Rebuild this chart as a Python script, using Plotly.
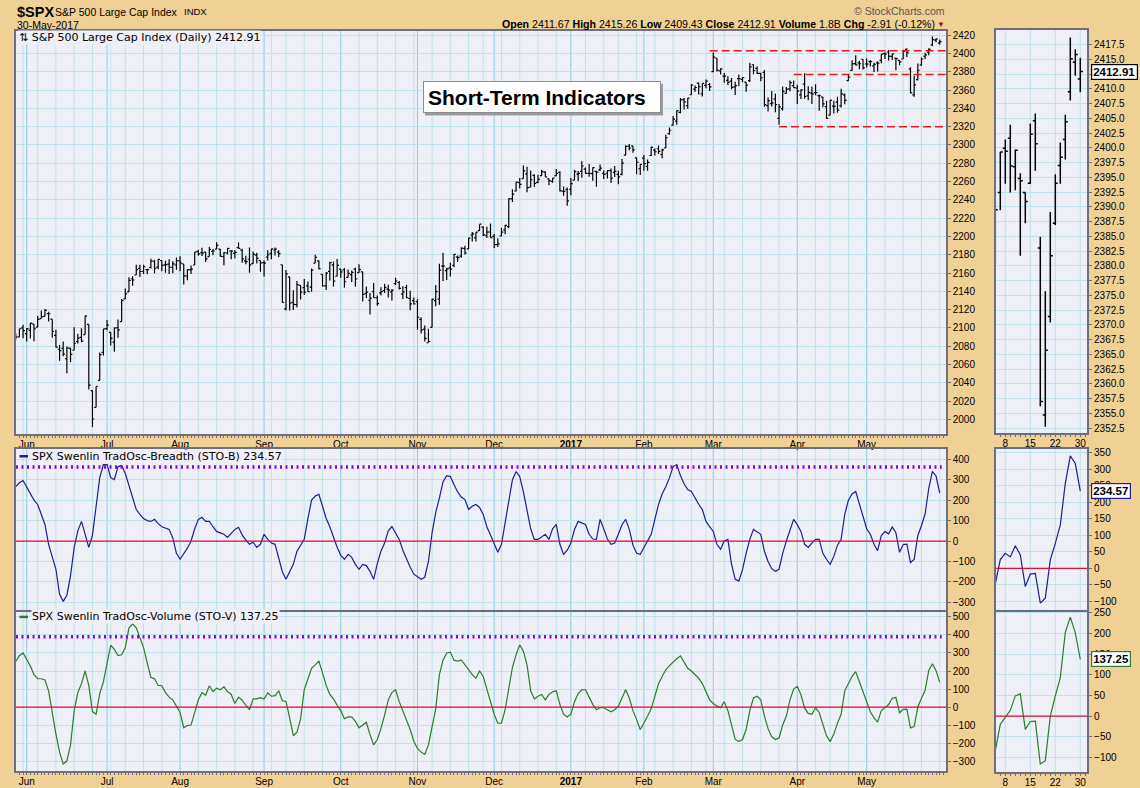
import plotly.graph_objects as go
from datetime import date

# ---------------- DATA ----------------
TRADING_DAYS = {
    (2016, 5): [26, 27, 31],
    (2016, 6): [1, 2, 3, 6, 7, 8, 9, 10, 13, 14, 15, 16, 17, 20, 21, 22, 23, 24, 27, 28, 29, 30],
    (2016, 7): [1, 5, 6, 7, 8, 11, 12, 13, 14, 15, 18, 19, 20, 21, 22, 25, 26, 27, 28, 29],
    (2016, 8): [1, 2, 3, 4, 5, 8, 9, 10, 11, 12, 15, 16, 17, 18, 19, 22, 23, 24, 25, 26, 29, 30, 31],
    (2016, 9): [1, 2, 6, 7, 8, 9, 12, 13, 14, 15, 16, 19, 20, 21, 22, 23, 26, 27, 28, 29, 30],
    (2016, 10): [3, 4, 5, 6, 7, 10, 11, 12, 13, 14, 17, 18, 19, 20, 21, 24, 25, 26, 27, 28, 31],
    (2016, 11): [1, 2, 3, 4, 7, 8, 9, 10, 11, 14, 15, 16, 17, 18, 21, 22, 23, 25, 28, 29, 30],
    (2016, 12): [1, 2, 5, 6, 7, 8, 9, 12, 13, 14, 15, 16, 19, 20, 21, 22, 23, 27, 28, 29, 30],
    (2017, 1): [3, 4, 5, 6, 9, 10, 11, 12, 13, 17, 18, 19, 20, 23, 24, 25, 26, 27, 30, 31],
    (2017, 2): [1, 2, 3, 6, 7, 8, 9, 10, 13, 14, 15, 16, 17, 21, 22, 23, 24, 27, 28],
    (2017, 3): [1, 2, 3, 6, 7, 8, 9, 10, 13, 14, 15, 16, 17, 20, 21, 22, 23, 24, 27, 28, 29, 30, 31],
    (2017, 4): [3, 4, 5, 6, 7, 10, 11, 12, 13, 17, 18, 19, 20, 21, 24, 25, 26, 27, 28],
    (2017, 5): [1, 2, 3, 4, 5, 8, 9, 10, 11, 12, 15, 16, 17, 18, 19, 22, 23, 24, 25, 26, 30],
}

OPEN = [
    2091.4, 2090.1, 2100.1,
    2093.9, 2097.7, 2104.1, 2100.8, 2110.2, 2112.7, 2115.7, 2109.6, 2091.8, 2076.7, 2077.6, 2066.4, 2078.0, 2075.6, 2085.2, 2089.8, 2092.8, 2103.8, 2031.5, 2013.2, 2042.7, 2073.2,
    2099.3, 2095.1, 2084.4, 2100.4, 2107.0, 2131.7, 2139.5, 2153.8, 2157.9, 2165.1, 2162.0, 2163.8, 2166.1, 2172.9, 2166.5, 2173.7, 2169.0, 2169.8, 2166.1, 2168.8,
    2173.2, 2169.9, 2156.8, 2163.5, 2168.8, 2183.8, 2182.2, 2182.8, 2178.0, 2183.7, 2186.1, 2186.2, 2177.8, 2181.9, 2184.2, 2181.6, 2187.8, 2185.1, 2173.3, 2175.1, 2170.2, 2179.5, 2173.6,
    2171.3, 2177.5, 2181.6, 2185.2, 2182.8, 2169.1, 2120.9, 2155.8, 2127.9, 2125.4, 2146.5, 2144.0, 2145.9, 2144.6, 2170.9, 2173.3, 2158.5, 2146.0, 2161.9, 2168.9, 2156.5,
    2164.3, 2163.4, 2155.2, 2158.2, 2164.2, 2160.4, 2161.4, 2137.7, 2130.3, 2139.7, 2133.0, 2138.3, 2140.8, 2142.5, 2139.4, 2148.5, 2149.7, 2137.0, 2144.1, 2132.2, 2129.8,
    2128.7, 2109.4, 2098.8, 2083.8, 2100.6, 2129.9, 2131.6, 2167.5, 2162.7, 2165.6, 2168.3, 2177.5, 2178.6, 2186.9, 2186.4, 2201.6, 2198.6, 2206.3, 2210.2, 2200.8, 2205.0,
    2200.2, 2191.1, 2200.6, 2207.3, 2210.7, 2241.1, 2249.7, 2258.8, 2263.3, 2268.4, 2253.8, 2266.8, 2259.2, 2266.5, 2270.5, 2262.9, 2260.3, 2266.2, 2270.2, 2249.5, 2251.6,
    2251.6, 2261.6, 2268.2, 2271.1, 2273.6, 2269.0, 2268.6, 2271.1, 2272.7, 2269.1, 2269.1, 2271.9, 2270.0, 2267.8, 2267.9, 2288.9, 2298.6, 2299.0, 2286.0, 2274.0,
    2285.6, 2276.7, 2288.5, 2294.3, 2295.9, 2289.6, 2296.7, 2312.3, 2321.7, 2326.1, 2335.6, 2349.6, 2343.0, 2354.9, 2361.1, 2367.5, 2355.7, 2365.2, 2366.1,
    2380.1, 2394.8, 2380.9, 2375.2, 2370.7, 2369.8, 2363.5, 2372.5, 2371.6, 2368.6, 2370.3, 2387.7, 2383.7, 2378.2, 2379.3, 2343.0, 2345.1, 2350.4, 2329.1, 2339.8, 2356.5, 2361.3, 2364.8,
    2362.3, 2354.8, 2366.6, 2353.8, 2356.6, 2357.2, 2353.9, 2352.2, 2342.0, 2332.6, 2342.5, 2346.8, 2342.7, 2354.7, 2370.3, 2381.5, 2389.0, 2389.7, 2393.7,
    2388.5, 2391.1, 2386.5, 2389.8, 2392.4, 2399.9, 2401.6, 2396.8, 2394.8, 2392.4, 2394.0, 2404.6, 2383.0, 2354.7, 2371.4, 2387.2, 2397.0, 2401.4, 2409.5, 2414.5, 2411.67,
]
HIGH = [
    2094.3, 2099.1, 2103.5,
    2100.0, 2105.3, 2104.1, 2113.4, 2119.2, 2120.6, 2117.6, 2109.6, 2098.1, 2081.3, 2085.1, 2079.6, 2078.0, 2100.7, 2093.7, 2099.7, 2113.3, 2103.8, 2031.5, 2036.1, 2073.1, 2098.9,
    2108.7, 2095.1, 2100.7, 2109.1, 2131.7, 2143.2, 2155.4, 2156.5, 2169.1, 2169.1, 2169.0, 2164.6, 2175.6, 2174.6, 2175.1, 2173.7, 2173.5, 2175.0, 2172.9, 2177.1,
    2178.3, 2170.2, 2163.8, 2168.2, 2182.9, 2185.4, 2187.7, 2183.4, 2188.5, 2186.3, 2193.8, 2186.2, 2183.1, 2187.0, 2185.0, 2185.2, 2193.4, 2186.7, 2179.0, 2187.9, 2183.5, 2182.3, 2173.8,
    2173.6, 2184.9, 2186.6, 2187.9, 2184.9, 2169.1, 2163.3, 2155.8, 2141.3, 2151.3, 2146.5, 2153.6, 2150.8, 2165.1, 2180.0, 2173.8, 2158.5, 2161.1, 2172.4, 2172.7, 2175.3,
    2164.4, 2165.5, 2163.9, 2162.9, 2165.9, 2169.6, 2161.6, 2145.4, 2138.2, 2149.2, 2135.6, 2144.4, 2148.4, 2147.2, 2142.6, 2154.8, 2151.4, 2145.7, 2147.1, 2140.7, 2133.3,
    2131.5, 2111.8, 2102.6, 2099.1, 2132.0, 2146.9, 2170.1, 2182.3, 2165.9, 2171.4, 2180.8, 2179.2, 2188.1, 2189.9, 2198.7, 2204.8, 2204.7, 2213.4, 2211.1, 2210.5, 2214.1,
    2202.6, 2198.0, 2209.4, 2212.8, 2241.6, 2251.7, 2259.8, 2264.0, 2277.5, 2276.2, 2272.1, 2268.1, 2267.5, 2272.6, 2271.2, 2263.2, 2263.8, 2273.8, 2271.3, 2254.5, 2253.6,
    2263.9, 2272.8, 2271.5, 2282.1, 2275.5, 2279.3, 2275.3, 2271.8, 2278.7, 2272.1, 2272.0, 2274.3, 2277.0, 2271.8, 2284.6, 2299.6, 2301.0, 2299.0, 2286.0, 2279.1,
    2289.1, 2284.0, 2298.3, 2296.2, 2299.4, 2295.9, 2311.1, 2319.2, 2331.6, 2337.6, 2351.3, 2351.3, 2351.2, 2366.7, 2365.1, 2368.3, 2367.3, 2371.5, 2367.8,
    2401.0, 2394.8, 2383.9, 2378.8, 2375.1, 2373.1, 2369.1, 2376.9, 2374.4, 2368.6, 2390.0, 2388.1, 2385.7, 2379.0, 2381.9, 2351.8, 2358.9, 2356.2, 2344.9, 2363.8, 2363.4, 2370.4, 2370.4,
    2365.9, 2361.0, 2378.4, 2364.2, 2363.8, 2366.4, 2355.2, 2352.7, 2348.3, 2349.1, 2348.4, 2352.6, 2361.4, 2356.2, 2377.0, 2392.5, 2398.2, 2392.1, 2393.7,
    2394.5, 2392.9, 2389.8, 2391.4, 2399.3, 2401.4, 2403.9, 2399.7, 2395.7, 2392.4, 2404.1, 2405.8, 2384.9, 2375.7, 2389.1, 2395.5, 2400.9, 2405.6, 2418.7, 2416.7, 2415.26,
]
LOW = [
    2087.1, 2090.1, 2088.7,
    2085.1, 2088.6, 2085.4, 2100.8, 2110.2, 2112.7, 2107.0, 2089.2, 2078.5, 2064.1, 2069.1, 2050.4, 2062.8, 2075.6, 2083.0, 2084.4, 2092.8, 2032.6, 1991.7, 2013.2, 2042.7, 2070.0,
    2097.5, 2080.9, 2074.0, 2089.4, 2107.0, 2131.7, 2139.5, 2146.2, 2157.9, 2155.8, 2159.1, 2159.0, 2165.1, 2159.8, 2164.1, 2161.9, 2160.2, 2159.1, 2159.7, 2163.5,
    2162.1, 2147.6, 2152.1, 2159.1, 2168.8, 2178.8, 2178.6, 2172.0, 2178.0, 2179.4, 2186.1, 2178.1, 2168.5, 2180.5, 2175.1, 2176.0, 2186.8, 2171.3, 2169.7, 2160.4, 2170.2, 2170.4, 2161.3,
    2156.1, 2173.6, 2175.1, 2179.1, 2177.5, 2127.8, 2119.1, 2119.1, 2119.6, 2122.4, 2131.2, 2135.9, 2139.2, 2139.6, 2170.9, 2164.0, 2145.0, 2141.6, 2151.8, 2145.2, 2156.5,
    2154.8, 2144.0, 2155.2, 2150.3, 2144.9, 2160.4, 2128.8, 2132.8, 2114.7, 2133.0, 2124.4, 2135.5, 2138.2, 2133.4, 2130.1, 2146.9, 2141.9, 2131.6, 2132.5, 2119.4, 2125.5,
    2097.9, 2094.0, 2085.2, 2083.8, 2100.6, 2123.6, 2125.4, 2151.2, 2152.5, 2156.1, 2166.4, 2172.2, 2176.7, 2180.4, 2186.4, 2194.5, 2194.5, 2206.3, 2200.4, 2198.2, 2198.8,
    2187.4, 2188.4, 2200.0, 2202.5, 2208.9, 2237.6, 2249.2, 2252.4, 2263.3, 2248.4, 2253.8, 2254.2, 2258.2, 2266.2, 2265.2, 2256.1, 2258.8, 2266.2, 2249.1, 2244.6, 2233.6,
    2245.1, 2261.6, 2260.5, 2264.1, 2268.9, 2265.3, 2260.8, 2254.3, 2271.5, 2262.8, 2263.4, 2258.4, 2265.0, 2257.0, 2266.7, 2288.9, 2294.1, 2291.6, 2268.0, 2267.2,
    2271.7, 2271.7, 2287.9, 2288.6, 2290.2, 2285.4, 2296.6, 2311.1, 2321.4, 2322.2, 2334.8, 2338.9, 2339.6, 2354.9, 2358.3, 2355.1, 2352.9, 2361.9, 2359.0,
    2380.1, 2380.2, 2376.9, 2368.0, 2365.5, 2361.0, 2354.5, 2364.2, 2368.5, 2358.2, 2368.9, 2377.2, 2377.6, 2369.7, 2341.9, 2336.5, 2342.1, 2335.7, 2322.2, 2337.6, 2356.5, 2358.6, 2362.6,
    2344.7, 2350.3, 2350.5, 2348.9, 2344.7, 2354.4, 2337.3, 2341.2, 2329.0, 2332.5, 2334.5, 2335.1, 2340.9, 2344.5, 2370.3, 2381.2, 2386.8, 2382.7, 2382.4,
    2384.8, 2385.8, 2379.8, 2380.4, 2389.4, 2393.9, 2392.4, 2392.8, 2381.7, 2387.2, 2393.9, 2396.1, 2356.2, 2352.7, 2370.4, 2386.9, 2393.9, 2398.0, 2408.0, 2412.2, 2409.43,
]
CLOSE = [
    2090.1, 2099.1, 2097.0,
    2099.3, 2105.3, 2099.1, 2109.4, 2112.1, 2119.1, 2115.5, 2096.1, 2079.1, 2075.3, 2071.5, 2078.0, 2071.2, 2083.3, 2088.9, 2085.5, 2113.3, 2037.4, 2000.5, 2036.1, 2070.8, 2098.9,
    2103.0, 2088.6, 2099.7, 2097.9, 2129.9, 2137.2, 2152.1, 2152.4, 2163.8, 2161.7, 2166.9, 2163.8, 2173.0, 2165.2, 2175.0, 2168.5, 2169.2, 2166.6, 2170.1, 2173.6,
    2170.8, 2157.0, 2163.8, 2164.3, 2182.9, 2180.9, 2181.7, 2175.5, 2185.8, 2184.1, 2190.2, 2178.2, 2182.2, 2187.0, 2183.9, 2182.6, 2186.9, 2175.4, 2172.5, 2169.0, 2180.4, 2176.1, 2171.0,
    2170.9, 2180.0, 2186.5, 2186.2, 2181.3, 2127.8, 2159.0, 2127.0, 2125.8, 2147.3, 2139.2, 2139.1, 2139.8, 2163.1, 2177.2, 2164.7, 2146.1, 2159.9, 2171.4, 2151.1, 2168.3,
    2161.2, 2150.5, 2159.7, 2160.8, 2153.7, 2163.7, 2136.7, 2139.2, 2132.6, 2133.0, 2126.5, 2139.6, 2144.3, 2141.3, 2141.2, 2151.3, 2143.2, 2139.4, 2133.0, 2126.4, 2126.2,
    2111.7, 2097.9, 2088.7, 2085.2, 2131.5, 2139.6, 2163.3, 2167.5, 2164.5, 2164.2, 2180.4, 2176.9, 2187.1, 2181.9, 2198.2, 2202.9, 2204.7, 2213.4, 2201.7, 2204.7, 2198.8,
    2191.1, 2192.0, 2204.7, 2212.2, 2241.4, 2246.2, 2259.5, 2257.0, 2271.7, 2253.3, 2262.0, 2258.1, 2262.5, 2270.8, 2265.2, 2261.0, 2263.8, 2268.9, 2249.9, 2249.3, 2238.8,
    2257.8, 2270.8, 2269.0, 2277.0, 2268.9, 2268.9, 2275.3, 2270.4, 2274.6, 2267.9, 2271.9, 2263.7, 2271.3, 2265.2, 2280.1, 2298.4, 2296.7, 2294.7, 2280.9, 2278.9,
    2279.6, 2280.9, 2297.4, 2292.6, 2293.1, 2294.7, 2307.9, 2316.1, 2328.3, 2337.6, 2349.3, 2347.2, 2351.2, 2365.4, 2362.8, 2363.8, 2367.3, 2369.8, 2363.6,
    2396.0, 2381.9, 2383.1, 2375.3, 2368.4, 2363.0, 2364.9, 2372.6, 2373.5, 2365.5, 2385.3, 2381.4, 2378.3, 2373.5, 2344.0, 2348.5, 2346.0, 2344.0, 2341.6, 2358.6, 2361.1, 2368.1, 2362.7,
    2358.8, 2360.2, 2353.0, 2357.5, 2355.5, 2357.2, 2353.8, 2344.9, 2329.0, 2349.0, 2342.2, 2338.2, 2355.8, 2348.7, 2374.2, 2388.6, 2387.5, 2388.8, 2384.2,
    2388.3, 2391.2, 2388.1, 2389.5, 2399.3, 2399.4, 2396.9, 2399.6, 2394.4, 2390.9, 2402.3, 2400.7, 2357.0, 2365.7, 2381.7, 2394.0, 2398.4, 2404.4, 2415.1, 2415.82, 2412.91,
]

STO_B = [
    266, 285, 296,
    262, 228, 200, 179, 130, 81, -16, -80, -138, -260, -295, -265, -170, -31, 50, 96, 33, -31, 28, 179, 310, 374,
    374, 310, 300, 364, 369, 330, 270, 215, 154, 130, 110, 100, 96, 106, 85, 70, 62, 57, 15, -60,
    -89, -65, -35, 0, 60, 106, 116, 96, 96, 70, 47, 40, 33, 18, 40, 57, 67, 30, 5, -16, -6, -31, -16,
    33, 8, -10, -16, -89, -150, -187, -150, -114, -50, -20, 8, 110, 200, 220, 228, 170, 110, 70, 18, -30,
    -70, -89, -65, -80, -114, -138, -114, -120, -148, -187, -110, -50, -10, 50, 71, 40, 8, -45, -90, -128, -162,
    -175, -187, -177, -100, 40, 140, 210, 290, 320, 315, 276, 240, 215, 203, 154, 170, 179, 164, 130, 70, 30,
    -16, -55, -16, 90, 203, 300, 340, 315, 240, 150, 60, 8, 8, 20, 33, 8, 60, 81, -16, -65, -45,
    -10, 57, 96, 90, 81, 33, 10, 8, 106, 60, 10, -16, -10, 33, 80, 106, 57, -20, -60, -65,
    -31, 0, 33, 106, 179, 230, 265, 310, 364, 374, 320, 280, 252, 242, 210, 180, 154, 96, 70,
    47, -16, -40, 0, 8, -114, -187, -196, -140, -60, 8, 57, 45, 33, -50, -100, -135, -148, -138, -60, 0, 57, 106,
    80, 47, -16, -31, -10, 8, 8, -60, -89, -114, -75, -20, 8, 130, 200, 230, 242, 179, 120,
    60, 33, -16, -47, 27, 46, 35, 69, 41, -55, -17, -15, -105, -90, 26, 76, 132, 258, 341, 318, 234.57,
]
STO_V = [
    253, 285, 300,
    262, 228, 180, 157, 157, 150, 90, -40, -150, -250, -316, -300, -210, -20, 80, 130, 200, 120, -25, -40, 75, 140,
    250, 343, 320, 286, 290, 330, 440, 462, 440, 380, 330, 245, 165, 157, 120, 118, 80, 55, 40, 5,
    -30, -115, -103, -100, -30, 40, 80, 65, 118, 86, 105, 96, 112, 86, 70, 20, 55, 38, 10, -15, 45, 45, 52,
    44, 78, 60, 63, 90, 35, 31, -60, -159, -140, -66, 96, 160, 215, 234, 255, 190, 120, 70, 45, 10,
    -20, -65, -55, -55, -80, -115, -100, -85, -153, -210, -180, -120, -45, 40, 80, 96, 30, -20, -70, -125, -190,
    -230, -250, -263, -210, -100, -10, 180, 260, 300, 305, 260, 255, 262, 234, 205, 180, 160, 200, 170, 100, 35,
    -40, -90, -90, -15, 110, 220, 290, 345, 310, 234, 90, 45, 60, 70, 40, 70, 85, 90, 15, -40, -55,
    -40, 30, 75, 96, 96, 55, 15, -15, -4, -4, -15, -26, -15, 5, 50, 96, 50, -20, -70, -125,
    -90, -45, -10, 60, 130, 170, 207, 230, 250, 268, 284, 250, 215, 200, 180, 160, 130, 85, 40,
    20, 5, -4, 30, -20, -105, -180, -192, -180, -125, -20, 50, 60, 40, -50, -120, -165, -180, -172, -100, -50, 40, 100,
    115, 68, -5, -35, -40, -4, -30, -100, -160, -192, -150, -90, -40, 90, 135, 170, 196, 140, 90,
    40, -26, -60, -84, -20, -3, 14, 49, 54, -32, -13, -12, -116, -108, 0, 49, 93, 203, 240, 202, 137.25,
]

SR_LEVELS = [2403, 2377, 2320]
SR_STARTS = [date(2017, 2, 28), date(2017, 3, 31), date(2017, 3, 27)]
STO_B_UPPER = 362
STO_V_UPPER = 390
MONTHS = ["Jan", "Feb", "Mar", "Apr", "May", "Jun", "Jul", "Aug", "Sep", "Oct", "Nov", "Dec"]

DATES = [date(y, m, d) for (y, m), days in TRADING_DAYS.items() for d in days]
N = len(DATES)
assert all(len(a) == N for a in (OPEN, HIGH, LOW, CLOSE, STO_B, STO_V)), [len(a) for a in (OPEN, HIGH, LOW, CLOSE, STO_B, STO_V)]
X = list(range(N))

month_idx = [i for i in range(1, N) if DATES[i].month != DATES[i - 1].month]
month_txt = ["<b>%d</b>" % DATES[i].year if DATES[i].month == 1 else MONTHS[DATES[i].month - 1] for i in month_idx]
week_idx = [i for i in range(1, N) if DATES[i].isocalendar()[1] != DATES[i - 1].isocalendar()[1]]

# ---------------- STYLE / GEOMETRY ----------------
W, H = 1140, 788
TAN = "#EFD196"
PLOT_BG = "#EFEFF7"
GRID = "#BFE3EC"
MGRID = "#8ECBDF"
BORDER = "#6E6E80"
NAVY = "#1F1F8C"
GREEN = "#2A7D2A"
FONT = "Liberation Sans, Arial, sans-serif"
VFONT = "DejaVu Sans, Verdana, sans-serif"

def fx(p):
    return p / W

def fy(p):
    return 1 - p / H

MAIN_X = [fx(16), fx(946)]
SM_X = [fx(995.7), fx(1087.3)]
X_MAIN_RANGE = [0.07, 254.72]
X_SM_RANGE = [236.08, 254.4]

sm_week = [i for i in week_idx if X_SM_RANGE[0] < i < X_SM_RANGE[1]]

def xaxis(domain, rng, anchor, tv, tt, labels, mirror=True):
    d = dict(domain=domain, range=rng, anchor=anchor, tickmode="array", tickvals=tv, ticktext=tt,
             showticklabels=labels, ticks="", showgrid=False, zeroline=False,
             showline=True, mirror=mirror, linecolor=BORDER, linewidth=1.5,
             tickfont=dict(family=FONT, size=10, color="black"), fixedrange=True,
             rangeslider=dict(visible=False))
    if labels:
        d["minor"] = dict(tickmode="linear", tick0=0, dtick=1, ticks="outside", ticklen=2,
                          tickcolor=BORDER, showgrid=False)
    return d

def yaxis(domain, rng, anchor, tick0, dtick, fmt=None):
    d = dict(domain=domain, range=rng, anchor=anchor, side="right", tickmode="linear", tick0=tick0,
             dtick=dtick, showgrid=True, gridcolor=GRID, gridwidth=1, zeroline=False,
             showline=True, mirror=True, linecolor=BORDER, linewidth=1.5,
             ticks="outside", ticklen=3, tickcolor=BORDER,
             tickfont=dict(family=FONT, size=10, color="black"), fixedrange=True)
    if fmt:
        d["tickformat"] = fmt
    return d

fig = go.Figure()

bar_line = dict(color="black", width=1.2)
fig.add_trace(go.Ohlc(x=X, open=OPEN, high=HIGH, low=LOW, close=CLOSE, xaxis="x", yaxis="y",
                      increasing=dict(line=bar_line), decreasing=dict(line=bar_line),
                      tickwidth=0.5, hoverinfo="skip"))
bar_line2 = dict(color="black", width=1.5)
fig.add_trace(go.Ohlc(x=X, open=OPEN, high=HIGH, low=LOW, close=CLOSE, xaxis="x2", yaxis="y2",
                      increasing=dict(line=bar_line2), decreasing=dict(line=bar_line2),
                      tickwidth=0.5, hoverinfo="skip"))
for xa, ya in (("x3", "y3"), ("x4", "y4")):
    fig.add_trace(go.Scatter(x=X, y=STO_B, mode="lines", line=dict(color=NAVY, width=1.2),
                             xaxis=xa, yaxis=ya, hoverinfo="skip"))
for xa, ya in (("x5", "y5"), ("x6", "y6")):
    fig.add_trace(go.Scatter(x=X, y=STO_V, mode="lines", line=dict(color=GREEN, width=1.2),
                             xaxis=xa, yaxis=ya, hoverinfo="skip"))

# value-tag arrows
for ya, xa, val, col in (("y2", "x2", CLOSE[-1], "black"), ("y4", "x4", STO_B[-1], NAVY), ("y6", "x6", STO_V[-1], GREEN)):
    fig.add_trace(go.Scatter(x=[X[-1] + 1.9], y=[val], xaxis=xa, yaxis=ya, mode="markers", cliponaxis=False,
                             marker=dict(symbol="triangle-left", size=10, color="white", line=dict(color=col, width=1)),
                             hoverinfo="skip"))

shapes = []
for xr, yr in (("x", "y"), ("x3", "y3"), ("x5", "y5")):
    for i in week_idx:
        if i not in month_idx:
            shapes.append(dict(type="line", xref=xr, yref=yr + " domain", x0=i, x1=i, y0=0, y1=1,
                               line=dict(color=GRID, width=1), layer="below"))
    for i in month_idx:
        shapes.append(dict(type="line", xref=xr, yref=yr + " domain", x0=i, x1=i, y0=0, y1=1,
                           line=dict(color=MGRID, width=1), layer="below"))
for xr, yr in (("x2", "y2"), ("x4", "y4"), ("x6", "y6")):
    for i in sm_week:
        shapes.append(dict(type="line", xref=xr, yref=yr + " domain", x0=i, x1=i, y0=0, y1=1,
                           line=dict(color=GRID, width=1), layer="below"))

# support / resistance lines
for lvl, d0 in zip(SR_LEVELS, SR_STARTS):
    shapes.append(dict(type="line", xref="x", yref="y", x0=DATES.index(d0), x1=X_MAIN_RANGE[1], y0=lvl, y1=lvl,
                       line=dict(color="#E81A1E", width=1.5, dash="8px,4px")))
# zero lines and upper bands
for xr, yr in (("x3", "y3"), ("x4", "y4"), ("x5", "y5"), ("x6", "y6")):
    shapes.append(dict(type="line", xref=xr + " domain", yref=yr, x0=0, x1=1, y0=0, y1=0,
                       line=dict(color="#DC0F3A", width=1.2)))
for yr, lvl in (("y3", STO_B_UPPER), ("y5", STO_V_UPPER)):
    shapes.append(dict(type="line", xref="x3 domain", yref=yr, x0=0, x1=0.9954, y0=lvl, y1=lvl,
                       line=dict(color="#8E00E6", width=3.5, dash="2px,3.5px")))

# legend line icons
for yp, col in ((456, NAVY), (617.3, GREEN)):
    shapes.append(dict(type="line", xref="paper", yref="paper", x0=fx(19.5), x1=fx(28), y0=fy(yp), y1=fy(yp),
                       line=dict(color=col, width=2.5)))
# shadow of the title box
shapes.append(dict(type="rect", xref="paper", yref="paper", x0=fx(425), x1=fx(663), y0=fy(114), y1=fy(82),
                   fillcolor="#9A9AA2", line=dict(width=0), layer="above"))

annotations = []

def ann(text, x, y, xanchor="left", size=11, family=FONT, color="black", **kw):
    a = dict(text=text, xref="paper", yref="paper", x=fx(x), y=fy(y), xanchor=xanchor, yanchor="middle",
             showarrow=False, font=dict(family=family, size=size, color=color))
    a.update(kw)
    annotations.append(a)

ann("<b>$SPX</b>", 15, 10, size=14.5)
ann("S&P 500 Large Cap Index", 53, 10, size=10.5)
ann("INDX", 182, 10, size=9.5)
ann("30-May-2017", 15, 23, size=10.5)
ann("© StockCharts.com", 947, 9.5, xanchor="right", size=10.5, color="#555555")
chg = CLOSE[-1] - CLOSE[-2]
pct = chg / CLOSE[-2] * 100
hdr = ("<b>Open</b> %.2f <b>High</b> %.2f <b>Low</b> %.2f <b>Close</b> %.2f <b>Volume</b> 1.8B <b>Chg</b> %.2f (%.2f%%)"
       % (OPEN[-1], HIGH[-1], LOW[-1], CLOSE[-1], chg, pct))
ann(hdr, 937, 22.5, xanchor="right", size=10.6)
ann("▼", 947, 22.5, xanchor="right", size=8, color="#A0102E")

ann("⇅ S&P 500 Large Cap Index (Daily) %.2f" % CLOSE[-1], 17.5, 35.5, size=11, family=VFONT,
    bgcolor=PLOT_BG, borderpad=0)
ann("SPX Swenlin TradOsc-Breadth (STO-B) %.2f" % STO_B[-1], 30.5, 456, size=11, family=VFONT,
    bgcolor=PLOT_BG, borderpad=0)
ann("SPX Swenlin TradOsc-Volume (STO-V) %.2f" % STO_V[-1], 30.5, 617.3, size=11, family=VFONT,
    bgcolor=PLOT_BG, borderpad=0)

annotations.append(dict(text="<b>Short-Term Indicators</b>", xref="paper", yref="paper", x=fx(422.7), y=fy(79),
                        xanchor="left", yanchor="top", showarrow=False, align="left", width=228, height=22,
                        bgcolor="white", bordercolor="#8C8C8C", borderwidth=1, borderpad=4,
                        font=dict(family=FONT, size=21, color="black")))

for yr, val, col in (("y2", CLOSE[-1], "black"), ("y4", STO_B[-1], NAVY), ("y6", STO_V[-1], GREEN)):
    annotations.append(dict(text="<b>%.2f</b>" % val, xref="paper", yref=yr, x=fx(1090.5), y=val,
                            xanchor="left", yanchor="middle", showarrow=False, bgcolor="white",
                            bordercolor=col, borderwidth=1.2, borderpad=1,
                            font=dict(family=FONT, size=11.5, color="black")))

sm_txt = [str(DATES[i].day) for i in sm_week]

fig.update_layout(
    width=W, height=H, margin=dict(l=0, r=0, t=0, b=0, pad=0),
    paper_bgcolor=TAN, plot_bgcolor=PLOT_BG, showlegend=False,
    font=dict(family=FONT, size=10, color="black"),
    xaxis=xaxis(MAIN_X, X_MAIN_RANGE, "y", month_idx, month_txt, True),
    yaxis=yaxis([fy(434), fy(29)], [1983.7, 2424.7], "x", 2000, 20),
    xaxis2=xaxis(SM_X, X_SM_RANGE, "y2", sm_week, sm_txt, True),
    yaxis2=yaxis([fy(433), fy(28.3)], [2351.6, 2419.93], "x2", 2352.5, 2.5, ".1f"),
    xaxis3=xaxis(MAIN_X, X_MAIN_RANGE, "y3", month_idx, month_txt, False),
    yaxis3=yaxis([fy(610), fy(448.3)], [-335.6, 452], "x3", 0, 100),
    xaxis4=xaxis(SM_X, X_SM_RANGE, "y4", sm_week, sm_txt, False),
    yaxis4=yaxis([fy(610), fy(448.3)], [-125, 363.3], "x4", 0, 50),
    xaxis5=xaxis(MAIN_X, X_MAIN_RANGE, "y5", month_idx, month_txt, True, mirror=False),
    yaxis5=yaxis([fy(772.3), fy(610)], [-357, 540.4], "x5", 0, 100),
    xaxis6=xaxis(SM_X, X_SM_RANGE, "y6", sm_week, sm_txt, True, mirror=False),
    yaxis6=yaxis([fy(772.7), fy(610)], [-134.9, 258], "x6", 0, 50),
    shapes=shapes, annotations=annotations,
)

fig.write_html("out.html", config={"displayModeBar": False},
               post_script="document.body.style.margin='0';document.body.style.background='%s';" % TAN)
